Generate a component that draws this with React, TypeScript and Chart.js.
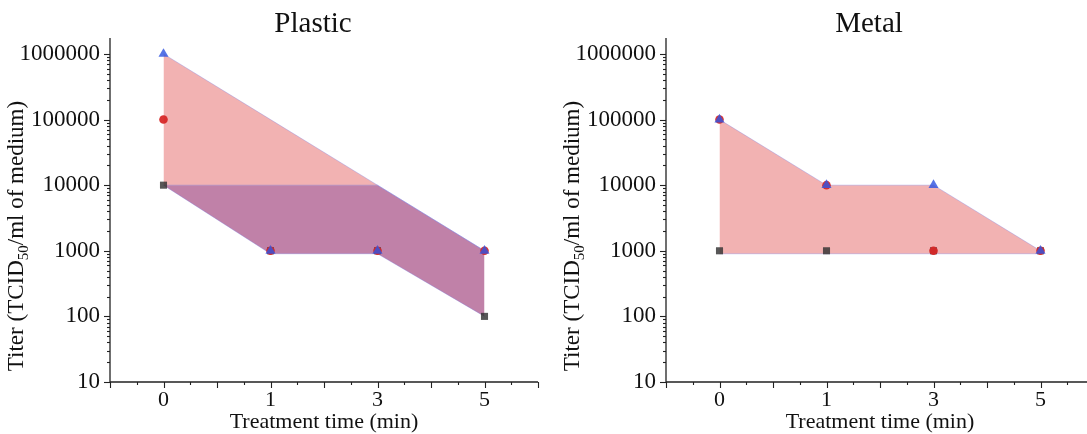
import React, { useEffect, useRef } from "react";
import { Chart, registerables } from "chart.js";

Chart.register(...registerables);

const FONT = '"Liberation Serif", "Times New Roman", serif';

const categories = ["0", "1", "3", "5"];
const yTickValues = [10, 100, 1000, 10000, 100000, 1000000];

// Plastic
const plasticTriangle = [1000000, 1000, 1000, 1000];
const plasticCircle = [100000, 1000, 1000, 1000];
const plasticSquare = [10000, 1000, 1000, 100];
const plasticBandUpper = [1000000, 100000, 10000, 1000];
const plasticBandMiddle = [10000, 10000, 10000, 1000];
const plasticBandLower = [10000, 900, 900, 100];

// Metal
const metalTriangle = [100000, 10000, 10000, 1000];
const metalCircle = [100000, 10000, 1000, 1000];
const metalSquare = [1000, 1000, 1000, 1000];
const metalBandUpper = [100000, 10000, 10000, 1000];
const metalBandLower = [900, 900, 900, 900];

const PINK = "rgba(229,101,101,0.5)";
const PURPLE = "rgba(150,45,110,0.6)";
const EDGE = "rgba(120,120,220,0.35)";

function markerSets(tri: number[], circ: number[], sq: number[]) {
  return [
    {
      data: tri,
      showLine: false,
      pointStyle: "triangle",
      pointRadius: 5.8,
      pointBackgroundColor: "rgba(50,85,225,0.82)",
      pointBorderColor: "rgba(50,85,225,0.82)",
      pointBorderWidth: 0,
      fill: false,
    },
    {
      data: circ,
      showLine: false,
      pointStyle: "circle",
      pointRadius: 4.3,
      pointBackgroundColor: "rgba(215,40,40,0.95)",
      pointBorderColor: "rgba(215,40,40,0.95)",
      pointBorderWidth: 0,
      fill: false,
    },
    {
      data: sq,
      showLine: false,
      pointStyle: "rect",
      pointRadius: 5,
      pointBackgroundColor: "rgba(50,50,50,0.82)",
      pointBorderColor: "rgba(50,50,50,0.82)",
      pointBorderWidth: 0,
      fill: false,
    },
  ];
}

function band(data: number[], fill: any, color: string) {
  return {
    data,
    fill,
    backgroundColor: color,
    borderColor: EDGE,
    borderWidth: 1,
    pointRadius: 0,
    tension: 0,
  };
}

const plasticDatasets = [
  ...markerSets(plasticTriangle, plasticCircle, plasticSquare),
  band(plasticBandUpper, "+1", PINK),
  band(plasticBandMiddle, "+1", PURPLE),
  band(plasticBandLower, false, "transparent"),
];

const metalDatasets = [
  ...markerSets(metalTriangle, metalCircle, metalSquare),
  band(metalBandUpper, "+1", PINK),
  band(metalBandLower, false, "transparent"),
];

const decorPlugin = {
  id: "decor",
  afterDraw(chart: any) {
    const o = chart.options.plugins.decor;
    const { ctx, chartArea } = chart;
    const xs = chart.scales.x;
    const ys = chart.scales.y;
    const L = chartArea.left, R = chartArea.right, T = chartArea.top, B = chartArea.bottom;
    ctx.save();
    ctx.strokeStyle = "#222";
    ctx.lineWidth = 1.3;
    ctx.beginPath();
    ctx.moveTo(L, T);
    ctx.lineTo(L, B);
    ctx.lineTo(R, B);
    ctx.stroke();
    ctx.lineWidth = 1.1;
    // x ticks
    for (let k = -2; k <= 14; k++) {
      const v = k * 0.25;
      const px = Math.round(xs.getPixelForValue(v)) + 0.5;
      const len = k % 2 === 0 ? 6 : 3;
      ctx.beginPath();
      ctx.moveTo(px, B);
      ctx.lineTo(px, B + len);
      ctx.stroke();
    }
    // y ticks
    const ymax = ys.max;
    for (let d = 1; d <= 6; d++) {
      const base = Math.pow(10, d);
      for (let m = 1; m <= 9; m++) {
        const v = base * m;
        if (v > ymax) break;
        const py = Math.round(ys.getPixelForValue(v)) + 0.5;
        const len = m === 1 ? 6 : 3;
        ctx.beginPath();
        ctx.moveTo(L, py);
        ctx.lineTo(L - len, py);
        ctx.stroke();
      }
    }
    // title
    ctx.fillStyle = "#111";
    ctx.font = `29px ${FONT}`;
    ctx.textAlign = "center";
    ctx.textBaseline = "alphabetic";
    ctx.fillText(o.title, (L + R) / 2 - 11, 32);
    // x axis title
    ctx.font = `22px ${FONT}`;
    ctx.fillText("Treatment time (min)", (L + R) / 2, 428);
    // y axis title with subscript
    const parts = [
      { t: "Titer (TCID", sub: false },
      { t: "50", sub: true },
      { t: "/ml of medium)", sub: false },
    ];
    const mainFont = `23px ${FONT}`;
    const subFont = `15px ${FONT}`;
    let total = 0;
    const widths = parts.map((p) => {
      ctx.font = p.sub ? subFont : mainFont;
      const w = ctx.measureText(p.t).width;
      total += w;
      return w;
    });
    ctx.translate(L - 94, 236);
    ctx.rotate(-Math.PI / 2);
    ctx.textAlign = "left";
    let cx = -total / 2;
    parts.forEach((p, i) => {
      ctx.font = p.sub ? subFont : mainFont;
      ctx.fillText(p.t, cx, p.sub ? 12 : 7);
      cx += widths[i];
    });
    ctx.restore();
  },
};

function Panel(props: { left: number; width: number; title: string; datasets: any[]; plotLeft: number; padRight: number }) {
  const ref = useRef<HTMLCanvasElement | null>(null);
  useEffect(() => {
    const chart = new Chart(ref.current as HTMLCanvasElement, {
      type: "line",
      data: { labels: categories, datasets: props.datasets as any },
      options: {
        animation: false,
        responsive: false,
        layout: { padding: { top: 38, right: props.padRight, left: 0, bottom: 0 } },
        plugins: {
          legend: { display: false },
          tooltip: { enabled: false },
          title: { display: false },
          filler: { drawTime: "beforeDatasetsDraw" },
          decor: { title: props.title },
        } as any,
        scales: {
          x: {
            type: "category",
            offset: true,
            grid: { display: false, drawTicks: false },
            border: { display: false },
            ticks: { font: { family: FONT, size: 22 }, color: "#111", padding: 5 },
            afterFit: (s: any) => {
              s.height = 52;
            },
          },
          y: {
            type: "logarithmic",
            min: 10,
            max: 1750000,
            grid: { display: false, drawTicks: false },
            border: { display: false },
            ticks: {
              font: { family: FONT, size: 23 },
              color: "#111",
              padding: 10,
              autoSkip: false,
              callback: (v: any) => String(v),
            },
            afterBuildTicks: (s: any) => {
              s.ticks = yTickValues.map((v) => ({ value: v }));
            },
            afterFit: (s: any) => {
              s.width = props.plotLeft;
            },
          },
        } as any,
      },
      plugins: [decorPlugin as any],
    });
    return () => chart.destroy();
  }, []);
  return (
    <div style={{ position: "absolute", left: props.left, top: 0, width: props.width, height: 434 }}>
      <canvas ref={ref} width={props.width} height={434} style={{ display: "block" }} />
    </div>
  );
}

export default function App() {
  return (
    <div style={{ position: "fixed", left: 0, top: 0, width: 1087, height: 434, overflow: "hidden", background: "#fff" }}>
      <Panel left={0} width={555} title="Plastic" datasets={plasticDatasets} plotLeft={110} padRight={17} />
      <Panel left={555} width={545} title="Metal" datasets={metalDatasets} plotLeft={111} padRight={6} />
    </div>
  );
}
